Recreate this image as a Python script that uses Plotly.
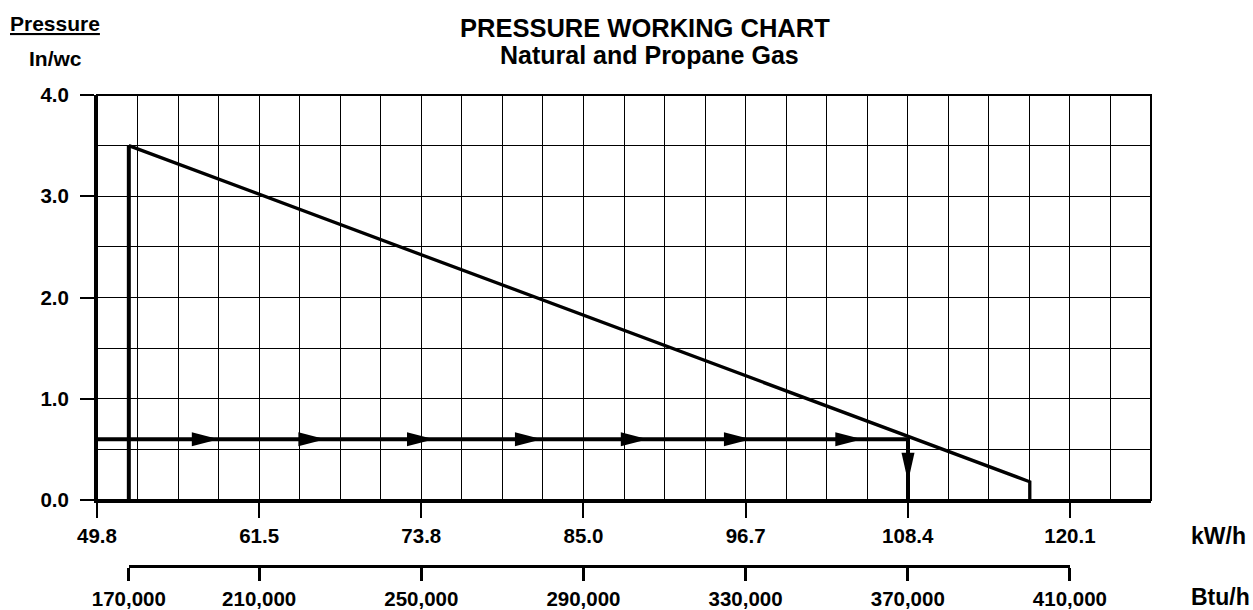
import plotly.graph_objects as go

# ---------------- data ----------------
kw_labels = ["49.8", "61.5", "73.8", "85.0", "96.7", "108.4", "120.1"]
btu_labels = ["170,000", "210,000", "250,000", "290,000", "330,000", "370,000", "410,000"]
y_labels = ["0.0", "1.0", "2.0", "3.0", "4.0"]
y_ticks = [0, 1, 2, 3, 4]

kw_min = 49.8
kw_max_tick = 120.1
cells_per_label = 4
n_cells = 26

# burner rating line (kW, in/wc)
rating_x = [52.1, 52.1, 117.2, 117.2]
rating_y = [0.0, 3.5, 0.18, 0.0]

# example operating line
operate_x = [49.8, 108.4, 108.4]
operate_y = [0.6, 0.6, 0.0]

# arrow heads along the operating line (tip positions)
arrow_x = [58.6, 66.3, 74.15, 81.95, 89.6, 97.05, 105.1]
arrow_y = 0.6
down_arrow_x = 108.4
down_arrow_y = 0.18

# ---------------- layout geometry ----------------
W, H = 1253, 610
L, T, R = 97, 95, 102
btu_axis_px = 566
B = H - btu_axis_px
plot_w = W - L - R
plot_h = H - T - B
y_bottom_px = 500

kw_step = (kw_max_tick - kw_min) / (cells_per_label * (len(kw_labels) - 1))
kw_range = [kw_min, kw_min + n_cells * kw_step]
kw_tick_pos = [kw_min + cells_per_label * i * kw_step for i in range(len(kw_labels))]
btu_tick_pos = [rating_x[0]] + kw_tick_pos[1:]


def kw_to_frac(v):
    return (v - kw_range[0]) / (kw_range[1] - kw_range[0])


def px_x(x):  # page pixel -> paper
    return (x - L) / plot_w


def px_y(y):
    return (H - B - y) / plot_h


ydom0 = (H - B - y_bottom_px) / plot_h

FONT = "Liberation Sans, Arial, Helvetica, sans-serif"
TICK_SIZE = 20.5

fig = go.Figure()

fig.add_trace(go.Scatter(x=rating_x[:2], y=rating_y[:2], mode="lines",
                         line=dict(color="black", width=4), hoverinfo="skip"))
fig.add_trace(go.Scatter(x=rating_x[1:], y=rating_y[1:], mode="lines",
                         line=dict(color="black", width=3.3), hoverinfo="skip"))
fig.add_trace(go.Scatter(x=operate_x, y=operate_y, mode="lines",
                         line=dict(color="black", width=4), hoverinfo="skip"))
# dummy trace for the Btu/h axis
fig.add_trace(go.Scatter(x=[btu_tick_pos[0]], y=[0], xaxis="x2", mode="markers",
                         marker=dict(opacity=0), hoverinfo="skip"))

shapes = []
for ax in arrow_x:
    shapes.append(dict(type="path", xref="x", yref="y", xsizemode="pixel", ysizemode="pixel",
                       xanchor=ax, yanchor=arrow_y,
                       path="M0,0 L-27,7 L-27,-7 Z",
                       fillcolor="black", line=dict(width=0)))
shapes.append(dict(type="path", xref="x", yref="y", xsizemode="pixel", ysizemode="pixel",
                   xanchor=down_arrow_x, yanchor=down_arrow_y,
                   path="M0,0 L-6.5,29 L6.5,29 Z",
                   fillcolor="black", line=dict(width=0)))
# plot border (top/right)
shapes.append(dict(type="rect", xref="paper", yref="paper", x0=0, x1=1, y0=ydom0, y1=1,
                   line=dict(color="black", width=2), fillcolor="rgba(0,0,0,0)"))

annotations = [
    dict(text="<b>PRESSURE WORKING CHART</b>", x=px_x(645), y=px_y(28.5), font=dict(size=25.5)),
    dict(text="<b>Natural and Propane Gas</b>", x=px_x(649), y=px_y(55), font=dict(size=25)),
    dict(text="<b><u>Pressure</u></b>", x=px_x(55), y=px_y(23), font=dict(size=21)),
    dict(text="<b>In/wc</b>", x=px_x(55), y=px_y(58), font=dict(size=21)),
    dict(text="<b>kW/h</b>", x=px_x(1218), y=px_y(536), font=dict(size=23)),
    dict(text="<b>Btu/h</b>", x=px_x(1220), y=px_y(597), font=dict(size=23)),
]
for a in annotations:
    a.update(xref="paper", yref="paper", showarrow=False, xanchor="center", yanchor="middle")
    a["font"].update(family=FONT, color="black")

tickfont = dict(size=TICK_SIZE, family=FONT, color="black", weight="bold")

fig.update_layout(
    width=W, height=H,
    margin=dict(l=L, r=R, t=T, b=B, autoexpand=False),
    paper_bgcolor="white", plot_bgcolor="rgba(0,0,0,0)",
    showlegend=False,
    font=dict(family=FONT, color="black"),
    shapes=shapes,
    annotations=annotations,
    xaxis=dict(
        range=kw_range, domain=[0, 1], anchor="y",
        tickmode="array", tickvals=kw_tick_pos, ticktext=kw_labels,
        ticks="outside", ticklen=15, tickwidth=1.5, tickcolor="black",
        tickfont=tickfont, ticklabelstandoff=0,
        showline=True, linewidth=3, linecolor="black",
        showgrid=True, gridcolor="black", gridwidth=1,
        minor=dict(tick0=kw_min, dtick=kw_step, showgrid=True, gridcolor="black",
                   gridwidth=1, ticks=""),
        zeroline=False, fixedrange=True,
    ),
    xaxis2=dict(
        range=[btu_tick_pos[0], btu_tick_pos[-1]],
        domain=[kw_to_frac(btu_tick_pos[0]), kw_to_frac(btu_tick_pos[-1])],
        anchor="free", position=0,
        tickmode="array", tickvals=btu_tick_pos, ticktext=btu_labels,
        ticks="outside", ticklen=13, tickwidth=3, tickcolor="black",
        tickfont=tickfont, ticklabelstandoff=0,
        showline=True, linewidth=3, linecolor="black",
        showgrid=False, zeroline=False, fixedrange=True,
    ),
    yaxis=dict(
        range=[0, 4], domain=[ydom0, 1], anchor="x",
        tickmode="array", tickvals=y_ticks, ticktext=y_labels,
        ticks="outside", ticklen=14, tickwidth=1.5, tickcolor="black",
        tickfont=tickfont, ticklabelstandoff=7,
        showline=True, linewidth=3, linecolor="black",
        showgrid=True, gridcolor="black", gridwidth=1,
        minor=dict(tick0=0, dtick=0.5, showgrid=True, gridcolor="black", gridwidth=1, ticks=""),
        zeroline=False, fixedrange=True,
    ),
)

fig.write_html(
    "out.html",
    config={"displayModeBar": False},
    post_script="document.body.style.margin='0px';document.documentElement.style.overflow='hidden';",
)
